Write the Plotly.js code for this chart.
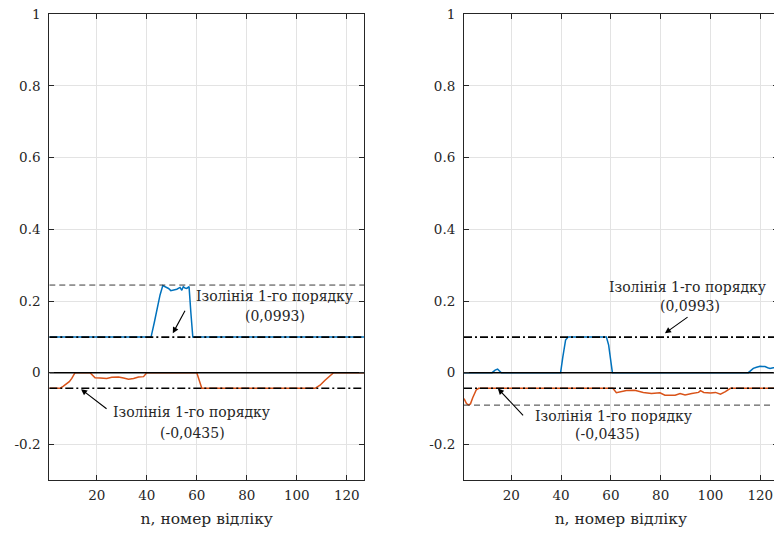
<!DOCTYPE html>
<html>
<head>
<meta charset="utf-8">
<script src="https://cdn.plot.ly/plotly-3.0.1.min.js"></script>
<style>
  html, body { margin: 0; padding: 0; overflow: hidden; background: #fff; }
  #chart { width: 780px; height: 533px; }
</style>
</head>
<body>
<div id="chart"></div>
<script>
// ---- data ----
const xTicks = [20, 40, 60, 80, 100, 120];
const yTicks = [-0.2, 0, 0.2, 0.4, 0.6, 0.8, 1];
const yTickText = ['-0.2', '0', '0.2', '0.4', '0.6', '0.8', '1'];
const xRange = [1, 127];

// Left panel
const blueL_x = [1, 41.7, 43, 44, 45.3, 46.4, 47.5, 48.7, 49.6, 51, 52, 53.3, 54, 54.6, 55.3, 56, 56.9, 57.6, 58.4, 127];
const blueL_y = [0.0993, 0.0993, 0.14, 0.175, 0.217, 0.243, 0.240, 0.235, 0.229, 0.231, 0.233, 0.238, 0.230, 0.240, 0.236, 0.235, 0.240, 0.17, 0.0993, 0.0993];
const orangeL_x = [1, 5.3, 6.5, 8, 9, 10, 11.3, 17.3, 18.3, 19.3, 21.3, 24, 26, 28.7, 30.7, 32.7, 34.7, 36.7, 38.7, 40, 60, 61, 62, 107.3, 109.3, 111.3, 113.3, 114.7, 127];
const orangeL_y = [-0.0435, -0.0435, -0.038, -0.030, -0.025, -0.016, 0, 0, -0.008, -0.014, -0.015, -0.016, -0.013, -0.012, -0.015, -0.018, -0.016, -0.012, -0.011, 0, 0, -0.02, -0.0435, -0.0435, -0.035, -0.021, -0.007, 0, 0];
const isoUpperL = 0.0993;
const isoLowerL = -0.0435;
const peakL = 0.2445;

// Right panel
const blueR_x = [1, 12.3, 13.5, 14.5, 16, 39.8, 40.7, 41.8, 42.8, 58.2, 59.1, 59.9, 60.6, 115.2, 116.5, 117.2, 118.5, 119.9, 121, 121.9, 123, 123.9, 125.2, 127];
const blueR_y = [0, 0, 0.007, 0.010, 0, 0, 0.044, 0.091, 0.0993, 0.0993, 0.077, 0.035, 0, 0, 0.008, 0.012, 0.015, 0.018, 0.017, 0.017, 0.014, 0.012, 0.014, 0.013];
const orangeR_x = [1, 2, 2.8, 3.6, 4.5, 5.9, 6.9, 60.8, 62.2, 64.2, 66.2, 69.6, 73, 76.3, 79.7, 81.7, 85.8, 87.8, 89.8, 92.5, 95.2, 96, 97.3, 100, 102, 104, 106, 108, 127];
const orangeR_y = [-0.072, -0.086, -0.090, -0.087, -0.070, -0.048, -0.0435, -0.0435, -0.056, -0.052, -0.050, -0.049, -0.055, -0.058, -0.056, -0.063, -0.063, -0.058, -0.062, -0.058, -0.055, -0.050, -0.055, -0.057, -0.055, -0.060, -0.053, -0.0435, -0.0435];
const isoUpperR = 0.0993;
const isoLowerR = -0.0435;
const minR = -0.0905;

const labelLine1 = 'Ізолінія 1-го порядку';
const labelUpper = '(0,0993)';
const labelLower = '(-0,0435)';
const xTitle = 'n, номер відліку';

// ---- styles ----
const BLUE = '#0072BD', ORANGE = '#D95319', INK = '#262626';
const FONT = 'DejaVu Serif';
const DASHDOT = '8px,3px,2px,3px';

function hline(xa, ya, yv, dash, width, color) {
  return { x: xRange, y: [yv, yv], xaxis: xa, yaxis: ya, mode: 'lines',
           line: { color: color, width: width, dash: dash }, hoverinfo: 'skip' };
}
function curve(xa, ya, xs, ys, color) {
  return { x: xs, y: ys, xaxis: xa, yaxis: ya, mode: 'lines',
           line: { color: color, width: 1.5 }, hoverinfo: 'skip' };
}

const traces = [
  curve('x', 'y', blueL_x, blueL_y, BLUE),
  curve('x', 'y', orangeL_x, orangeL_y, ORANGE),
  hline('x', 'y', 0, 'solid', 1.6, '#000'),
  hline('x', 'y', isoUpperL, DASHDOT, 1.6, '#000'),
  hline('x', 'y', isoLowerL, DASHDOT, 1.6, '#000'),
  hline('x', 'y', peakL, '6px,4px', 0.9, '#222'),

  curve('x2', 'y2', blueR_x, blueR_y, BLUE),
  curve('x2', 'y2', orangeR_x, orangeR_y, ORANGE),
  hline('x2', 'y2', 0, 'solid', 1.6, '#000'),
  hline('x2', 'y2', isoUpperR, DASHDOT, 1.6, '#000'),
  hline('x2', 'y2', isoLowerR, DASHDOT, 1.6, '#000'),
  hline('x2', 'y2', minR, '6px,4px', 0.9, '#222')
];

const W = 780, H = 533;
const plotTop = 14.3, plotBottom = 480.2;
const yDomain = [1 - plotBottom / H, 1 - plotTop / H];

function xAxis(domain, anchor) {
  return {
    domain: domain, anchor: anchor, range: xRange,
    tickvals: xTicks, ticks: 'inside', ticklen: 5, tickcolor: INK, tickwidth: 1,
    showline: true, linecolor: INK, linewidth: 1, mirror: 'ticks',
    showgrid: true, gridcolor: '#e3e3e3', gridwidth: 1, zeroline: false,
    tickfont: { family: FONT, size: 13.5, color: INK },
    ticklabelstandoff: 3,
    title: { text: xTitle, font: { family: FONT, size: 15.5, color: INK }, standoff: 10 },
    automargin: false, fixedrange: true
  };
}
function yAxis(anchor) {
  return {
    domain: yDomain, anchor: anchor, range: [-0.3, 1],
    tickvals: yTicks, ticktext: yTickText, ticks: 'inside', ticklen: 5, tickcolor: INK, tickwidth: 1,
    showline: true, linecolor: INK, linewidth: 1, mirror: 'ticks',
    showgrid: true, gridcolor: '#e3e3e3', gridwidth: 1, zeroline: false,
    tickfont: { family: FONT, size: 13.5, color: INK },
    ticklabelstandoff: 5,
    automargin: false, fixedrange: true
  };
}

function txt(xref, yref, x, y, t) {
  return { xref: xref, yref: yref, x: x, y: y, text: t, showarrow: false,
           xanchor: 'center', yanchor: 'middle',
           font: { family: FONT, size: 14, color: INK } };
}
function arrow(xref, yref, x, y, ax, ay) {
  return { xref: xref, yref: yref, axref: xref, ayref: yref, x: x, y: y, ax: ax, ay: ay,
           text: '', showarrow: true, arrowhead: 2, arrowsize: 1.1, arrowwidth: 1.1,
           arrowcolor: '#000', standoff: 0, startstandoff: 0 };
}

const annotations = [
  txt('x', 'y', 91.3, 0.2138, labelLine1),
  txt('x', 'y', 91.3, 0.158, labelUpper),
  arrow('x', 'y', 50.4, 0.110, 55.6, 0.177),
  txt('x', 'y', 58.1, -0.110, labelLine1),
  txt('x', 'y', 58.1, -0.1686, labelLower),
  arrow('x', 'y', 13.7, -0.046, 24.5, -0.104),

  txt('x2', 'y2', 90.9, 0.240, labelLine1),
  txt('x2', 'y2', 91.7, 0.187, labelUpper),
  arrow('x2', 'y2', 81.7, 0.110, 91.4, 0.158),
  txt('x2', 'y2', 61.1, -0.121, labelLine1),
  txt('x2', 'y2', 58.7, -0.171, labelLower),
  arrow('x2', 'y2', 14.6, -0.044, 25.3, -0.123)
];

const layout = {
  width: W, height: H,
  margin: { l: 0, r: 0, t: 0, b: 0 },
  paper_bgcolor: '#fff', plot_bgcolor: '#fff',
  showlegend: false,
  font: { family: FONT },
  xaxis: xAxis([49.3 / W, 364.3 / W], 'y'),
  yaxis: yAxis('x'),
  xaxis2: xAxis([464 / W, 777.7 / W], 'y2'),
  yaxis2: yAxis('x2'),
  annotations: annotations
};

Plotly.newPlot('chart', traces, layout, { displayModeBar: false, staticPlot: true });
</script>
</body>
</html>
